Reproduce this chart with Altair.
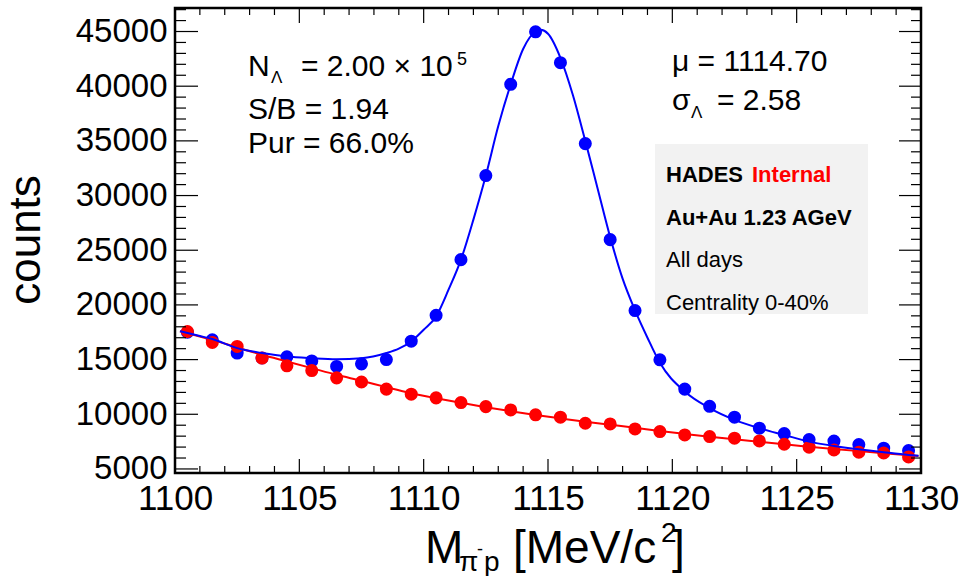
import altair as alt
import pandas as pd

# ---------------- data ----------------
bin_centers = [1100.5, 1101.5, 1102.5, 1103.5, 1104.5, 1105.5, 1106.5, 1107.5, 1108.5, 1109.5,
               1110.5, 1111.5, 1112.5, 1113.5, 1114.5, 1115.5, 1116.5, 1117.5, 1118.5, 1119.5,
               1120.5, 1121.5, 1122.5, 1123.5, 1124.5, 1125.5, 1126.5, 1127.5, 1128.5, 1129.5]
all_counts = [17500, 16810, 15600, 15150, 15260, 14880, 14370, 14610, 15000, 16680,
              19050, 24140, 31830, 40170, 44970, 42150, 34750, 25970, 19480, 14980,
              12300, 10730, 9730, 8730, 8240, 7690, 7550, 7230, 6900, 6680]
bkg_counts = [17570, 16570, 16200, 15140, 14430, 14000, 13330, 12950, 12300, 11840,
              11500, 11070, 10700, 10400, 9950, 9730, 9180, 9120, 8660, 8420,
              8110, 7960, 7810, 7560, 7260, 6990, 6740, 6530, 6460, 6100]

fit_total_x = [1100.2, 1101.0, 1101.5, 1102.5, 1103.5, 1104.5, 1105.5, 1106.5, 1107.5, 1108.5,
               1109.0, 1109.5, 1110.0, 1110.5, 1111.0, 1111.5, 1112.0, 1112.5, 1113.0, 1113.5,
               1114.0, 1114.5, 1114.7, 1115.0, 1115.5, 1116.0, 1116.5, 1117.0, 1117.5, 1118.0,
               1118.5, 1119.0, 1119.5, 1120.5, 1121.5, 1122.5, 1123.5, 1124.5, 1125.5, 1126.5,
               1127.5, 1128.5, 1129.5, 1129.9]
fit_total_y = [17600, 17150, 16880, 16050, 15600, 15280, 15130, 15040, 15130, 15600,
               16000, 16660, 17730, 18950, 21390, 24140, 27800, 31830, 36350, 40170,
               43400, 45000, 45150, 44800, 42600, 39200, 35000, 30600, 26200, 22400,
               19500, 17000, 14700, 12080, 10560, 9490, 8730, 8110, 7500, 7100,
               6800, 6530, 6280, 6200]

fit_bkg_x = [1100.2, 1101.5, 1102.5, 1103.5, 1104.5, 1105.5, 1106.5, 1107.5, 1108.5, 1109.5,
             1110.5, 1111.5, 1112.5, 1113.5, 1114.5, 1115.5, 1116.5, 1117.5, 1118.5, 1119.5,
             1120.5, 1121.5, 1122.5, 1123.5, 1124.5, 1125.5, 1126.5, 1127.5, 1128.5, 1129.5, 1129.9]
fit_bkg_y = [17600, 16800, 16110, 15440, 14830, 14220, 13610, 13060, 12480, 11930,
             11470, 11050, 10650, 10280, 9930, 9620, 9320, 9040, 8760, 8460,
             8200, 7950, 7710, 7480, 7250, 7040, 6830, 6630, 6440, 6260, 6190]

x_major = [1100, 1105, 1110, 1115, 1120, 1125, 1130]
y_major = [5000, 10000, 15000, 20000, 25000, 30000, 35000, 40000, 45000]
x_minor = [v for v in range(1100, 1131) if v not in x_major]
y_minor = [v for v in range(5000, 47001, 1000) if v not in y_major]

FONT = "Liberation Sans"
W, H = 746, 465
BLUE = "#0000ff"
RED = "#ff0000"

xs = alt.Scale(domain=[1100, 1130], nice=False, zero=False)
ys = alt.Scale(domain=[4630, 47150], nice=False, zero=False)

x_axis = alt.Axis(values=x_major, title=None, ticks=False, domain=False, grid=False,
                  labelFontSize=35, labelFont=FONT, labelColor="black", labelPadding=8,
                  labelFlush=False, labelOverlap=False, labelBound=False, format="d")
y_axis = alt.Axis(values=y_major, title=None, ticks=False, domain=False, grid=False,
                  labelFontSize=33, labelFont=FONT, labelColor="black", labelPadding=8,
                  labelFlush=False, labelOverlap=False, labelBound=False, format="d")

def X(field):
    return alt.X(f"{field}:Q", scale=xs, axis=x_axis)

def Y(field):
    return alt.Y(f"{field}:Q", scale=ys, axis=y_axis)

pts_all = pd.DataFrame({"m": bin_centers, "c": all_counts})
pts_bkg = pd.DataFrame({"m": bin_centers, "c": bkg_counts})
fit_all = pd.DataFrame({"m": fit_total_x, "c": fit_total_y})
fit_bkg = pd.DataFrame({"m": fit_bkg_x, "c": fit_bkg_y})

blue_pts = alt.Chart(pts_all).mark_circle(size=170, opacity=1, color=BLUE).encode(x=X("m"), y=Y("c"))
red_pts = alt.Chart(pts_bkg).mark_circle(size=170, opacity=1, color=RED).encode(x=X("m"), y=Y("c"))
red_line = alt.Chart(fit_bkg).mark_line(color=RED, strokeWidth=2, interpolate="monotone").encode(x=X("m"), y=Y("c"))
blue_line = alt.Chart(fit_all).mark_line(color=BLUE, strokeWidth=2, interpolate="monotone").encode(x=X("m"), y=Y("c"))

# ticks (inward, on all four sides)
def xticks(vals, y0, y1):
    return alt.Chart(pd.DataFrame({"t": vals})).mark_rule(color="black", strokeWidth=1.2).encode(
        x=X("t"), y=alt.value(y0), y2=alt.value(y1))

def yticks(vals, x0, x1):
    return alt.Chart(pd.DataFrame({"t": vals})).mark_rule(color="black", strokeWidth=1.2).encode(
        y=Y("t"), x=alt.value(x0), x2=alt.value(x1))

ticks = [
    xticks(x_major, H, H - 14), xticks(x_minor, H, H - 7),
    xticks(x_major, 0, 15), xticks(x_minor, 0, 7),
    yticks(y_major, 0, 23), yticks(y_minor, 0, 11),
    yticks(y_major, W, W - 22), yticks(y_minor, W, W - 10),
]

def txt(text, x, y, size, color="black", weight="normal", angle=0, align="left"):
    kw = dict(text=text, font=FONT, fontSize=size, color=color, fontWeight=weight,
              align=align, baseline="alphabetic")
    if angle:
        kw["angle"] = angle
    return alt.Chart(pd.DataFrame({"a": [0]})).mark_text(**kw).encode(
        x=alt.value(x), y=alt.value(y))

box = alt.Chart(pd.DataFrame({"a": [0]})).mark_rect(color="#f2f2f2").encode(
    x=alt.value(480), x2=alt.value(693), y=alt.value(136), y2=alt.value(306))

texts = [
    # left stats box
    txt("N", 73, 68, 30),
    txt("Λ", 96, 75, 17),
    txt("= 2.00 × 10", 126, 68, 30),
    txt("5", 282, 57, 18),
    txt("S/B = 1.94", 73, 111, 30),
    txt("Pur = 66.0%", 73, 145, 30),
    # right fit parameters
    txt("μ = 1114.70", 497, 63, 30),
    txt("σ", 497, 102, 30),
    txt("Λ", 516, 110, 17),
    txt("= 2.58", 542, 102, 30),
    # HADES label box
    txt("HADES", 491, 174, 22, weight="bold"),
    txt("Internal", 577, 174, 22, color=RED, weight="bold"),
    txt("Au+Au 1.23 AGeV", 491, 217, 22, weight="bold"),
    txt("All days", 491, 259, 22),
    txt("Centrality 0-40%", 491, 302, 22),
    # x title
    txt("M", 250, 555, 46),
    txt("π", 284, 563, 28),
    txt("-", 302, 547, 18),
    txt("p", 309, 563, 28),
    txt("[MeV/c", 338, 555, 46),
    txt("2", 486, 534, 28),
    txt("]", 497, 555, 46),
    # y title
    txt("counts", -135, 232, 44, angle=270, align="center"),
]

chart = alt.layer(
    box, blue_pts, red_pts, red_line, blue_line, *ticks, *texts
).properties(
    width=W, height=H,
    padding={"left": 175, "top": 8, "right": 57, "bottom": 103},
    autosize=alt.AutoSizeParams(type="none"),
    background="white",
).configure_view(
    stroke="black", strokeWidth=2.5
)

chart.save("out.html", embed_options={"renderer": "svg", "actions": False})
